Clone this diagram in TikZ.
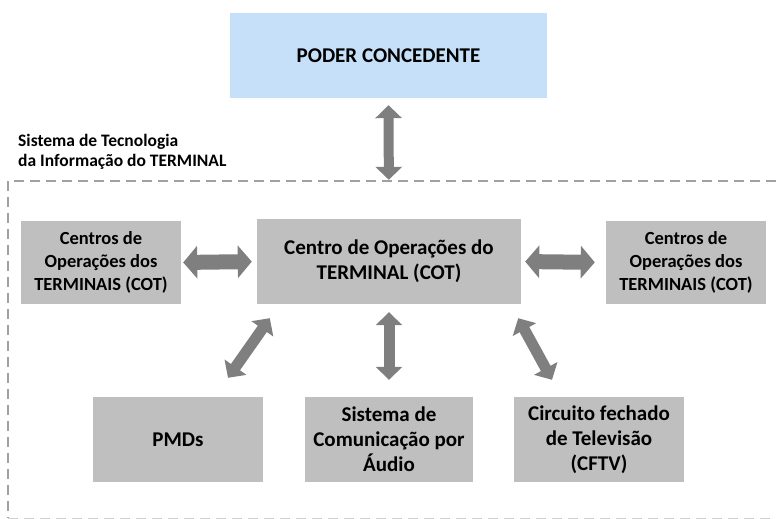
\documentclass[tikz,border=0pt]{standalone}
\usepackage{fontspec}
\setmainfont{Carlito}
\usetikzlibrary{arrows.meta}

\definecolor{boxgray}{RGB}{191,191,191}
\definecolor{arrowgray}{RGB}{127,127,127}
\definecolor{poderblue}{RGB}{197,224,248}
\definecolor{framegray}{RGB}{160,160,160}

\tikzset{
  unitbox/.style={fill=boxgray, inner sep=0pt, align=center,
    font=\bfseries\fontsize{21}{25}\selectfont},
  sidebox/.style={unitbox, minimum width=160pt, minimum height=83pt,
    font=\bfseries\fontsize{18.5}{23}\selectfont},
  fatarrow/.style={arrowgray, line width=15pt,
    {Triangle[length=14pt,width=32pt]}-{Triangle[length=14pt,width=32pt]}},
  slimarrow/.style={arrowgray, line width=11pt,
    {Triangle[length=13pt,width=26pt]}-{Triangle[length=13pt,width=26pt]}},
  framedash/.style={framegray, line width=1.6pt, dash pattern=on 10pt off 6pt}
}

\begin{document}
\begin{tikzpicture}[x=1pt, y=-1pt]
  \useasboundingbox (0,0) rectangle (776,519);

  % dashed frame of the terminal system
  \draw[framedash] (776,181) -- (8,181) -- (8,518);
  \draw[framedash, framegray!50, line width=1pt] (8,518.5) -- (776,518.5);
  \node[anchor=west, align=left, inner sep=0pt,
    font=\bfseries\fontsize{17.5}{20}\selectfont] (sti) at (18,152)
    {Sistema de Tecnologia\\da Informação do TERMINAL};

  % boxes
  \node[unitbox, fill=poderblue, minimum width=317pt, minimum height=85pt]
    (poder) at (388.5,55.5) {PODER CONCEDENTE};
  \node[unitbox, minimum width=264pt, minimum height=85pt]
    (cot) at (389,261.5) {Centro de Operações do\\TERMINAL (COT)};
  \node[sidebox] (cotl) at (101,262.5) {Centros de\\Operações dos\\TERMINAIS (COT)};
  \node[sidebox] (cotr) at (686,262.5) {Centros de\\Operações dos\\TERMINAIS (COT)};
  \node[unitbox, minimum width=170pt, minimum height=85pt]
    (pmd) at (178,439.5) {PMDs};
  \node[unitbox, minimum width=168pt, minimum height=85pt]
    (aud) at (389,439.5) {Sistema de\\Comunicação por\\Áudio};
  \node[unitbox, minimum width=170pt, minimum height=85pt]
    (cftv) at (599,439.5) {Circuito fechado\\de Televisão\\(CFTV)};

  % connectors
  \draw[slimarrow, line width=10pt, shorten <=7pt, shorten >=39pt] (poder.south) -- (cot.north);
  \draw[fatarrow, shorten <=2pt, shorten >=5pt] (cotl.east) -- (cot.west);
  \draw[fatarrow, shorten <=4pt, shorten >=11pt] (cot.east) -- (cotr.west);
  \draw[slimarrow, shorten <=8pt, shorten >=17pt] (cot.south) -- (aud.north);
  \draw[slimarrow] ([shift={(13,14)}]cot.south west) -- ([shift={(50,-19)}]pmd.north);
  \draw[slimarrow] ([shift={(-3,14)}]cot.south east) -- ([shift={(-47,-17)}]cftv.north);
\end{tikzpicture}
\end{document}
